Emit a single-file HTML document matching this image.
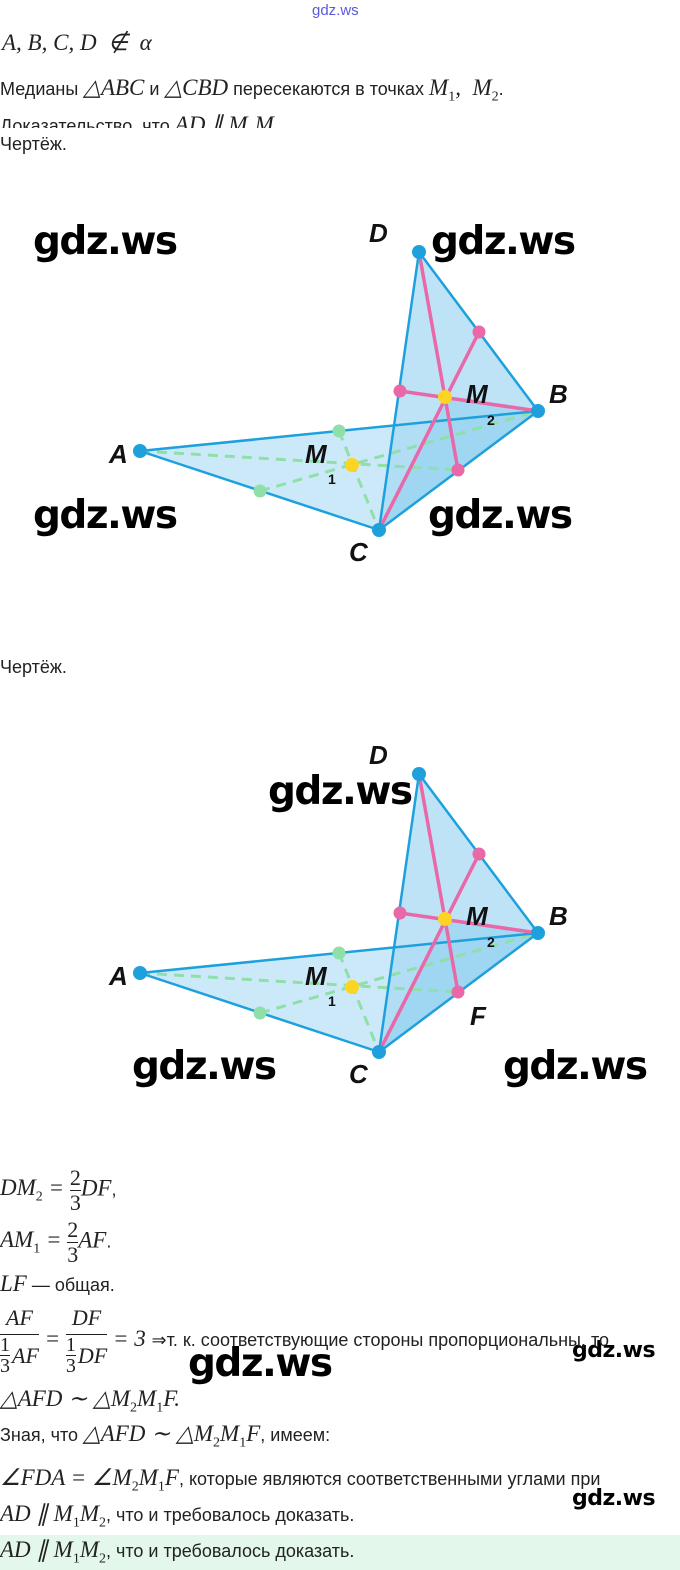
<!DOCTYPE html>
<html><head><meta charset="utf-8"><style>
body{margin:0;width:680px;height:1570px;position:relative;background:#fff;overflow:hidden;font-family:"Liberation Sans",sans-serif;color:#222}
.t{position:absolute;white-space:nowrap;font-size:18px}
.m{font-family:"Liberation Serif",serif;font-style:italic;font-size:23px}
.w{position:absolute;font-family:"DejaVu Sans",sans-serif;font-weight:bold;font-size:39px;color:#000;letter-spacing:-1.5px;line-height:1}
.fr{display:inline-block;vertical-align:middle;text-align:center;font-family:"Liberation Serif",serif;font-size:22px;line-height:24px}
.fr>span{display:block}
.fr .n{border-bottom:1px solid #222}
.fr .d{display:flex;align-items:center;justify-content:center}
.sf{display:inline-block;text-align:center;font-size:20px;line-height:20px;margin-right:2px}
.sf>span{display:block}
sub{font-size:14px;font-style:normal}
</style></head><body>
<div class="t" style="left:312px;top:2px;font-size:15px;color:#5a5ae0">gdz.ws</div>
<div class="t m" style="left:2px;top:30px">A, B, C, D &nbsp;∉ &nbsp;α</div>
<div class="t" style="left:0;top:75px">Медианы <span class="m">△ABC</span> и <span class="m">△CBD</span> пересекаются в точках <span class="m">M<sub>1</sub>, &nbsp;M<sub>2</sub></span>.</div>
<div style="position:absolute;left:0;top:108px;height:20px;overflow:hidden;width:400px"><div class="t" style="left:0;top:4px">Доказательство, что <span class="m">AD ∥ M<sub>1</sub>M<sub>2</sub></span></div></div>
<div class="t" style="left:0;top:134px">Чертёж.</div>
<div class="t" style="left:0;top:657px">Чертёж.</div>

<svg width="680" height="1170" style="position:absolute;left:0;top:0">
<defs><g id="fig">
<polygon points="140,451 538,411 379,530" fill="#bfe3f7" fill-opacity="0.8"/>
<polygon points="419,252 538,411 379,530" fill="#a9daf3" fill-opacity="0.75"/>
<polygon points="379,530 538,411 445,397" fill="#8ccdef" fill-opacity="0.5"/>
<g stroke="#8fe0a8" stroke-width="3" stroke-dasharray="10,7" fill="none">
<line x1="140" y1="451" x2="458" y2="470"/><line x1="260" y1="491" x2="538" y2="411"/><line x1="339" y1="431" x2="379" y2="530"/></g>
<g stroke="#1ea0dc" stroke-width="2.5" fill="none">
<polyline points="379,530 140,451 538,411"/><polyline points="419,252 538,411 379,530 419,252"/></g>
<g stroke="#e868a8" stroke-width="3.5"><line x1="419" y1="252" x2="458" y2="470"/><line x1="379" y1="530" x2="479" y2="332"/><line x1="400" y1="391" x2="538" y2="411"/></g>
<g fill="#1ea0dc"><circle cx="140" cy="451" r="7"/><circle cx="538" cy="411" r="7"/><circle cx="379" cy="530" r="7"/><circle cx="419" cy="252" r="7"/></g>
<g fill="#e868a8"><circle cx="479" cy="332" r="6.5"/><circle cx="400" cy="391" r="6.5"/><circle cx="458" cy="470" r="6.5"/></g>
<g fill="#8fe0a8"><circle cx="339" cy="431" r="6.5"/><circle cx="260" cy="491" r="6.5"/></g>
<g fill="#fcd424"><circle cx="445" cy="397" r="7"/><circle cx="352" cy="465" r="7"/></g>
<g font-family="Liberation Sans,sans-serif" font-weight="bold" font-style="italic" fill="#111" font-size="26">
<text x="369" y="242">D</text><text x="549" y="403">B</text><text x="109" y="463">A</text><text x="349" y="561">C</text>
<text x="305" y="463">M</text><text x="466" y="403">M</text></g>
<g font-family="Liberation Sans,sans-serif" font-weight="bold" fill="#111" font-size="14"><text x="328" y="484">1</text><text x="487" y="425">2</text></g>
</g></defs>
<use href="#fig"/>
<use href="#fig" y="522"/>
<text x="470" y="1025" font-family="Liberation Sans,sans-serif" font-weight="bold" font-style="italic" fill="#111" font-size="26">F</text>
</svg>

<div class="w" style="left:33px;top:222px">gdz.ws</div>
<div class="w" style="left:431px;top:222px">gdz.ws</div>
<div class="w" style="left:33px;top:496px">gdz.ws</div>
<div class="w" style="left:428px;top:496px">gdz.ws</div>
<div class="w" style="left:268px;top:772px">gdz.ws</div>
<div class="w" style="left:132px;top:1047px">gdz.ws</div>
<div class="w" style="left:503px;top:1047px">gdz.ws</div>
<div class="w" style="left:188px;top:1344px">gdz.ws</div>
<div class="w" style="left:572px;top:1340px;font-size:22px;letter-spacing:-0.5px">gdz.ws</div>
<div class="w" style="left:572px;top:1488px;font-size:22px;letter-spacing:-0.5px">gdz.ws</div>

<div class="t" style="left:0;top:1166px"><span class="m">DM<sub>2</sub> = </span><span class="fr"><span class="n">2</span><span>3</span></span><span class="m">DF</span>,</div>
<div class="t" style="left:0;top:1218px"><span class="m">AM<sub>1</sub> = </span><span class="fr"><span class="n">2</span><span>3</span></span><span class="m">AF</span>.</div>
<div class="t" style="left:0;top:1271px"><span class="m">LF</span> — общая.</div>
<div class="t" style="left:0;top:1306px"><span class="fr"><span class="n" style="padding-bottom:4px"><i>AF</i></span><span class="d"><span class="sf"><span class="n">1</span><span>3</span></span><i>AF</i></span></span><span class="m"> = </span><span class="fr"><span class="n" style="padding-bottom:4px"><i>DF</i></span><span class="d"><span class="sf"><span class="n">1</span><span>3</span></span><i>DF</i></span></span><span class="m"> = 3 </span>⇒т. к. соответствующие стороны пропорциональны, то</div>
<div class="t m" style="left:0;top:1386px">△AFD ∼ △M<sub>2</sub>M<sub>1</sub>F.</div>
<div class="t" style="left:0;top:1421px">Зная, что <span class="m">△AFD ∼ △M<sub>2</sub>M<sub>1</sub>F</span>, имеем:</div>
<div class="t" style="left:0;top:1465px"><span class="m">∠FDA = ∠M<sub>2</sub>M<sub>1</sub>F</span>, которые являются соответственными углами при</div>
<div class="t" style="left:0;top:1501px"><span class="m">AD ∥ M<sub>1</sub>M<sub>2</sub></span>, что и требовалось доказать.</div>
<div style="position:absolute;left:0;top:1535px;width:680px;height:35px;background:#e3f8ea"></div>
<div class="t" style="left:0;top:1537px"><span class="m">AD ∥ M<sub>1</sub>M<sub>2</sub></span>, что и требовалось доказать.</div>
</body></html>
